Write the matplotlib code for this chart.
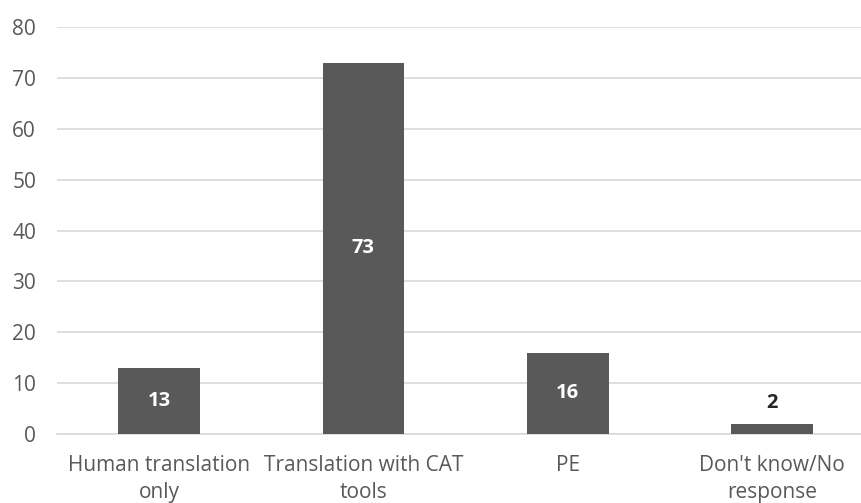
import matplotlib.pyplot as plt

# translation approach used by respondents
categories = ["Human translation\nonly", "Translation with CAT\ntools", "PE",
              "Don't know/No\nresponse"]
counts = [13, 73, 16, 2]
yticks = [0, 10, 20, 30, 40, 50, 60, 70, 80]

plt.rcParams['font.family'] = ['Open Sans', 'DejaVu Sans']

fig = plt.figure(figsize=(8.62, 5.03), dpi=100)
ax = fig.add_axes([0.066, 0.137, 0.934, 0.809])

x = range(len(categories))
bars = ax.bar(x, counts, width=0.40, color='#595959', zorder=3)

# value labels: inside the bar when it is tall enough, above it otherwise
for rect, v in zip(bars, counts):
    cx = rect.get_x() + rect.get_width() / 2
    if v >= 5:
        ax.text(cx, v / 2, str(v), ha='center', va='center', color='white',
                fontsize=14.5, fontweight='bold', zorder=4)
    else:
        ax.text(cx, v + 2.2, str(v), ha='center', va='bottom', color='#262626',
                fontsize=14.5, fontweight='bold', zorder=4)

ax.set_xlim(-0.5, 3.44)
ax.set_ylim(0, 80)
ax.set_yticks(yticks)
ax.set_xticks(list(x))
ax.set_xticklabels(categories, linespacing=1.4)
ax.grid(axis='y', color='#d9d9d9', linewidth=1.2, zorder=0)
ax.tick_params(axis='y', length=0, pad=15, labelsize=15, labelcolor='#595959')
ax.tick_params(axis='x', length=0, pad=15, labelsize=15, labelcolor='#595959')
for s in ax.spines.values():
    s.set_visible(False)
ax.spines['bottom'].set_visible(True)
ax.spines['bottom'].set_color('#d9d9d9')
ax.spines['bottom'].set_linewidth(1.2)

fig.savefig('out.png', dpi=100, facecolor='white')
